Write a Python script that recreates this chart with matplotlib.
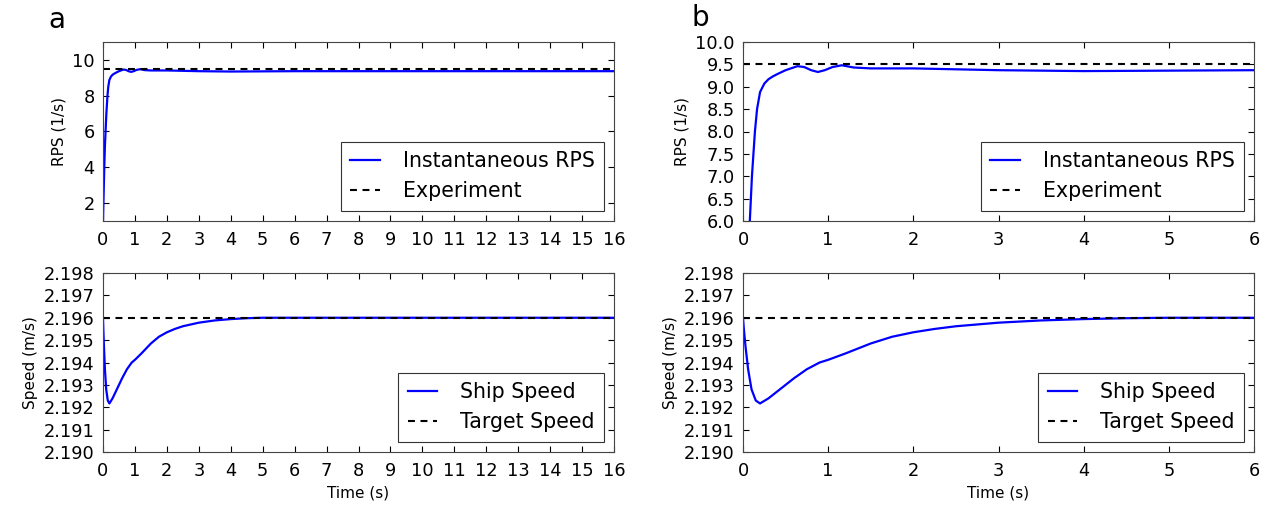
import numpy as np
import matplotlib
matplotlib.use('Agg')
import matplotlib.pyplot as plt

# 時間軸とデータ
time_rps = [0.0, 0.02, 0.04, 0.06, 0.08, 0.105, 0.14, 0.165, 0.20, 0.25, 0.30,
            0.35, 0.40, 0.50, 0.64, 0.72, 0.80, 0.88, 0.96, 1.05, 1.16, 1.30, 1.50,
            2.00, 2.50, 3.00, 4.00, 5.00, 6.00, 8.00, 10.0, 12.0, 14.0, 16.0]
rps = [1.0, 2.5, 4.0, 5.2, 6.0, 7.0, 8.0, 8.5, 8.88, 9.07, 9.17,
       9.23, 9.28, 9.37, 9.46, 9.44, 9.37, 9.33, 9.37, 9.44, 9.48, 9.43, 9.41,
       9.41, 9.39, 9.37, 9.35, 9.36, 9.37, 9.37, 9.37, 9.37, 9.37, 9.37]
rps_experiment = 9.5

time_speed = [0.0, 0.01, 0.03, 0.06, 0.10, 0.15, 0.20, 0.30, 0.40, 0.50, 0.60,
              0.75, 0.90, 1.00, 1.20, 1.50, 1.75, 2.00, 2.25, 2.50, 3.00, 3.50,
              4.00, 4.50, 5.00, 6.00, 8.00, 10.0, 12.0, 14.0, 16.0]
speed = [2.1960, 2.1955, 2.1947, 2.1937, 2.1928, 2.1923, 2.19217, 2.1924, 2.1927,
         2.1930, 2.1933, 2.1937, 2.19400, 2.19412, 2.19440, 2.19485, 2.19515,
         2.19535, 2.19550, 2.19562, 2.19578, 2.19588, 2.19594, 2.19598,
         2.19600, 2.19600, 2.19600, 2.19600, 2.19600, 2.19600, 2.19600]
target_speed = 2.196

plt.rcParams['font.family'] = 'DejaVu Sans'
plt.rcParams['xtick.direction'] = 'in'
plt.rcParams['ytick.direction'] = 'in'
plt.rcParams['xtick.top'] = True
plt.rcParams['ytick.right'] = True
plt.rcParams['xtick.major.size'] = 4
plt.rcParams['ytick.major.size'] = 4
plt.rcParams['xtick.major.pad'] = 7
plt.rcParams['ytick.major.pad'] = 6
plt.rcParams['xtick.labelsize'] = 12.8
plt.rcParams['ytick.labelsize'] = 12.8
plt.rcParams['axes.edgecolor'] = '#444444'
plt.rcParams['lines.scale_dashes'] = False

fig = plt.figure(figsize=(12.66, 5.07), dpi=100)

W = 511 / 1266
H = 179 / 507
ax_a1 = fig.add_axes([103 / 1266, 1 - 221 / 507, W, H])
ax_a2 = fig.add_axes([103 / 1266, 1 - 452 / 507, W, H])
ax_b1 = fig.add_axes([743 / 1266, 1 - 221 / 507, W, H])
ax_b2 = fig.add_axes([743 / 1266, 1 - 452 / 507, W, H])


def legend(ax):
    leg = ax.legend(loc='lower right', fontsize=14.8, fancybox=False,
                    handlelength=1.45, handletextpad=1.1, borderaxespad=0.5,
                    labelspacing=0.5, borderpad=0.45)
    leg.get_frame().set_edgecolor('black')
    leg.get_frame().set_linewidth(0.8)


# RPS
for ax, xmax, ylim in [(ax_a1, 16, (1, 11)), (ax_b1, 6, (6, 10))]:
    ax.plot(time_rps, rps, color='blue', lw=1.6, label='Instantaneous RPS')
    ax.axhline(rps_experiment, color='black', ls='--', dashes=(5, 4), lw=1.5,
               label='Experiment')
    ax.set_xlim(0, xmax)
    ax.set_ylim(*ylim)
    ax.set_ylabel('RPS (1/s)', fontsize=11)
    legend(ax)
ax_a1.set_xticks(range(0, 17))
ax_a1.set_yticks([2, 4, 6, 8, 10])
ax_b1.set_yticks(np.arange(6.0, 10.01, 0.5))
ax_b1.set_yticklabels(['%.1f' % v for v in np.arange(6.0, 10.01, 0.5)])

# 速度
for ax, xmax in [(ax_a2, 16), (ax_b2, 6)]:
    ax.plot(time_speed, speed, color='blue', lw=1.6, label='Ship Speed')
    ax.axhline(target_speed, color='black', ls='--', dashes=(5, 4), lw=1.5,
               label='Target Speed')
    ax.set_xlim(0, xmax)
    ax.set_ylim(2.190, 2.198)
    ax.set_yticks(np.arange(2.190, 2.1981, 0.001))
    ax.set_yticklabels(['%.3f' % v for v in np.arange(2.190, 2.1981, 0.001)])
    ax.set_ylabel('Speed (m/s)', fontsize=11)
    ax.set_xlabel('Time (s)', fontsize=11)
    legend(ax)
ax_a2.set_xticks(range(0, 17))

fig.text(57 / 1266, 1 - 20 / 507, 'a', fontsize=20, ha='center', va='center')
fig.text(700 / 1266, 1 - 18 / 507, 'b', fontsize=20, ha='center', va='center')

plt.savefig('out.png', dpi=100)
